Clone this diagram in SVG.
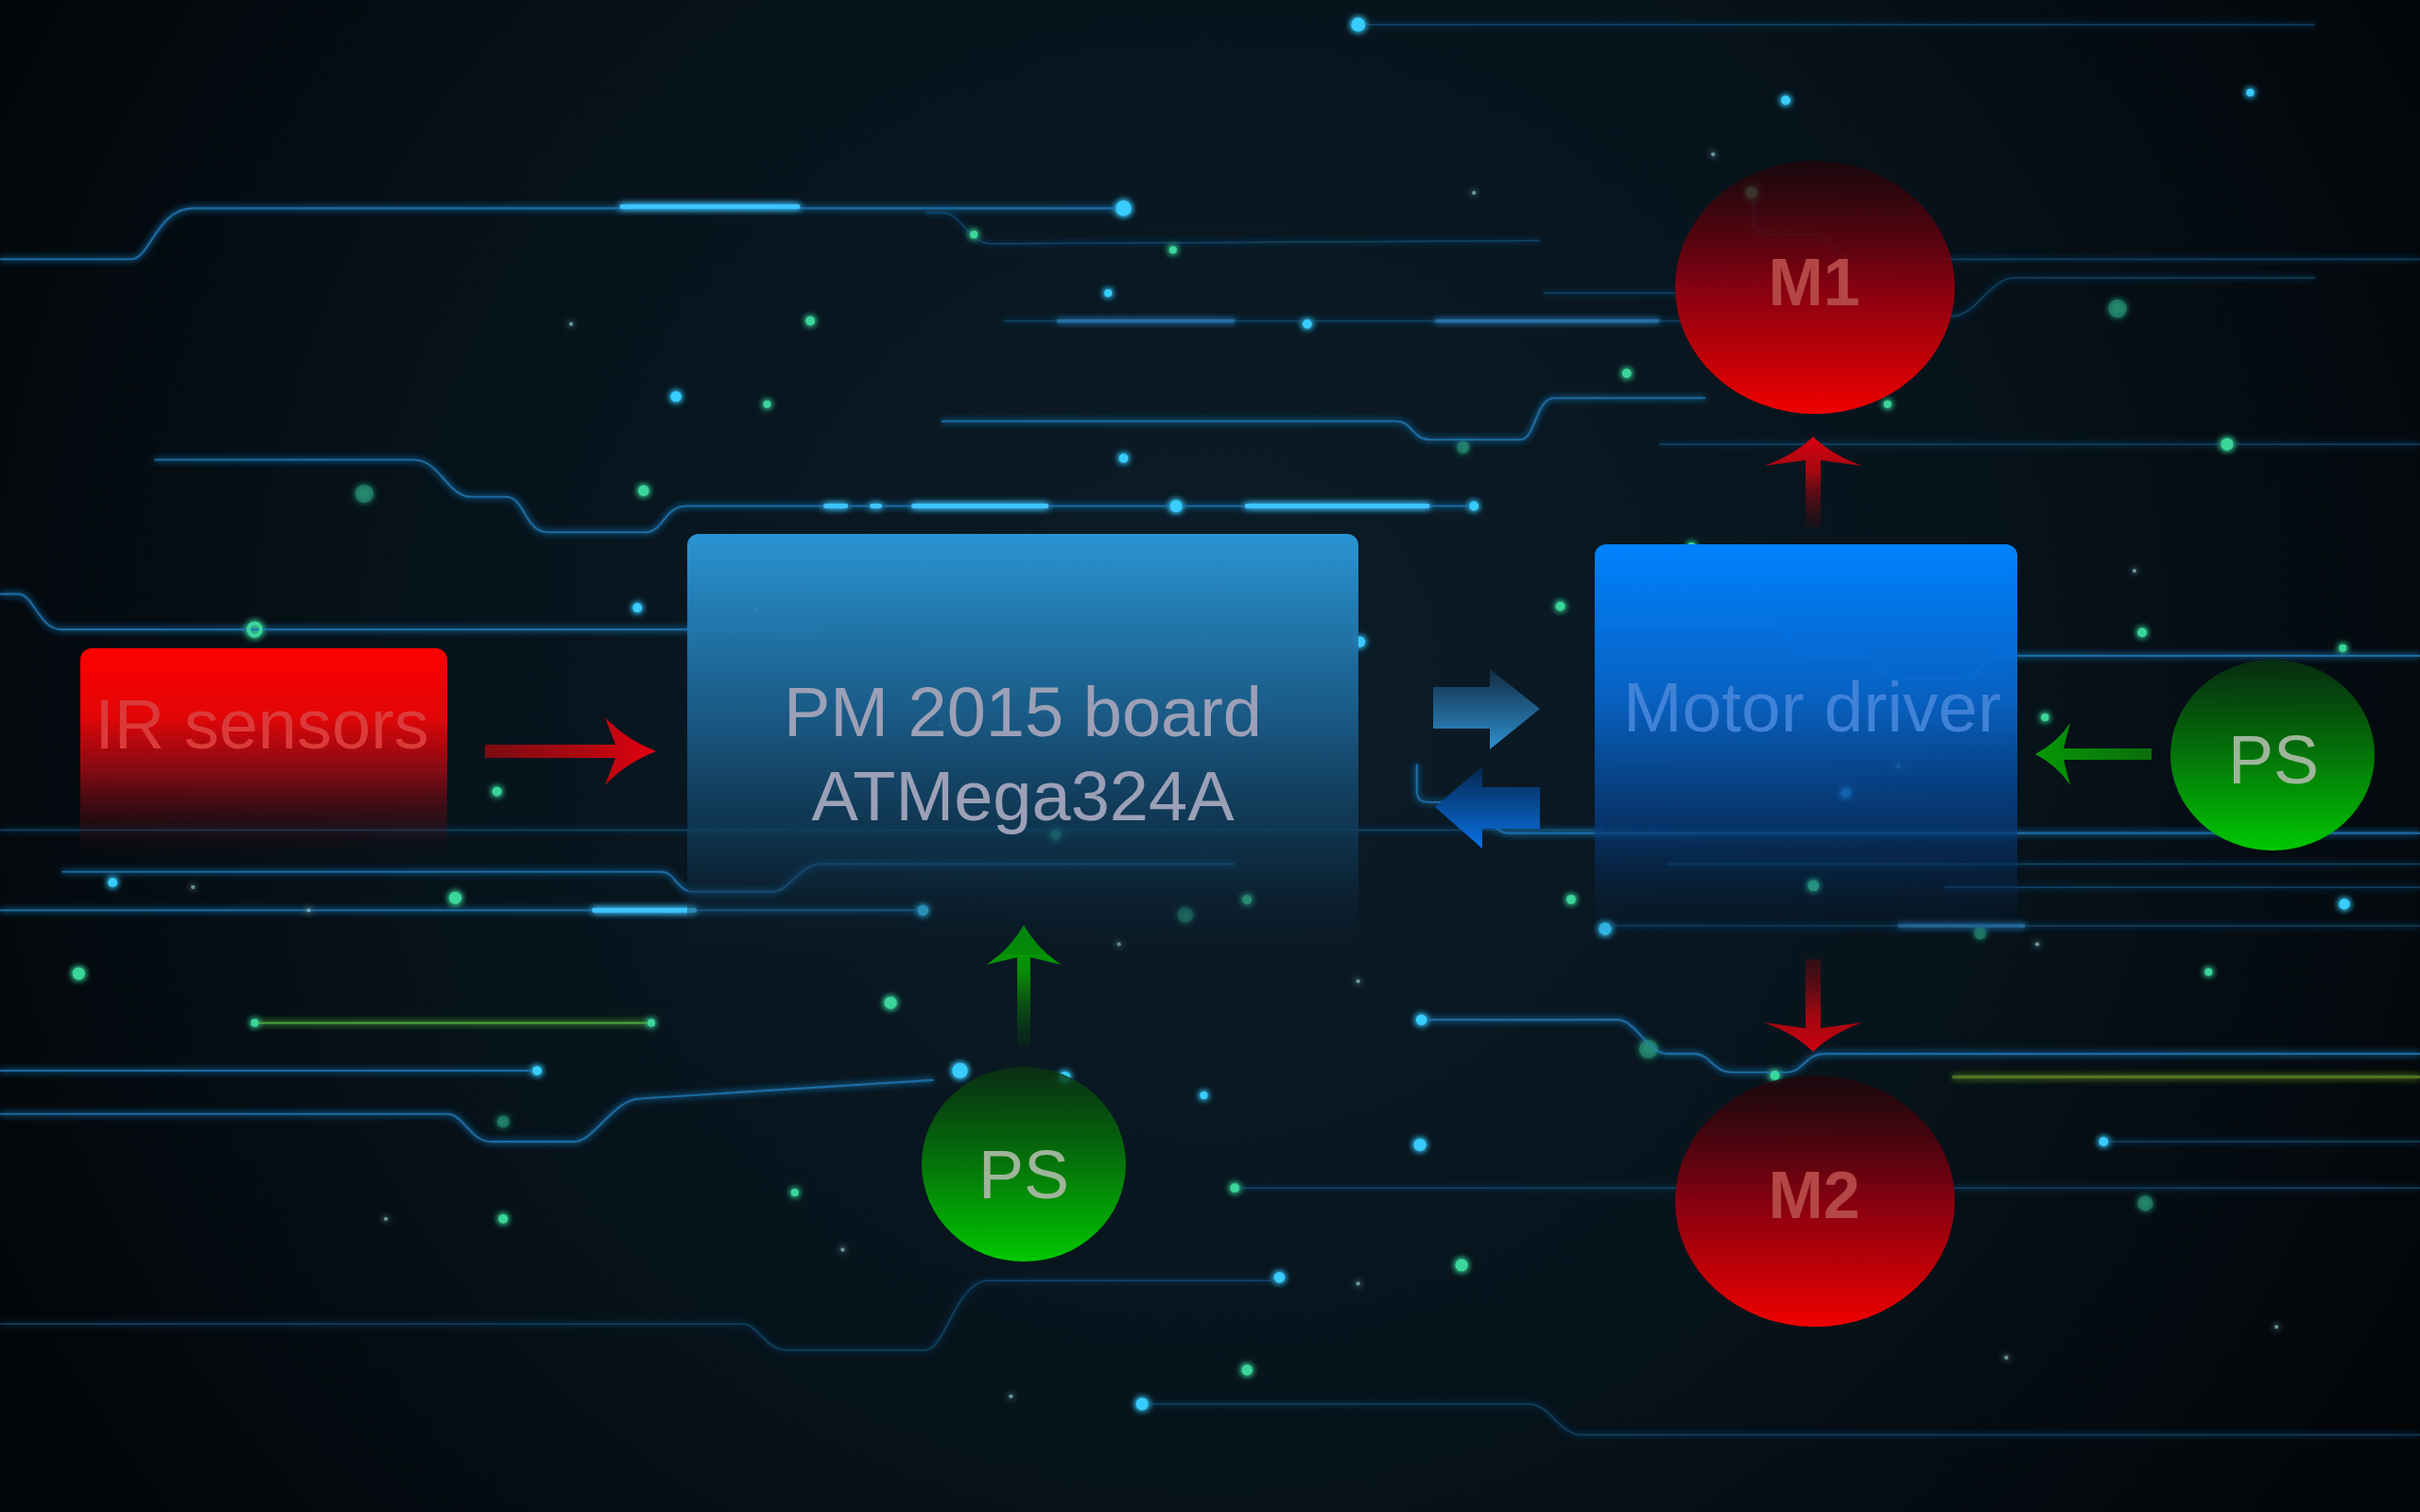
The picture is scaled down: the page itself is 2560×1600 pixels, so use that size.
<svg xmlns="http://www.w3.org/2000/svg" width="2560" height="1600" viewBox="0 0 2560 1600">
<defs>
<radialGradient id="bg" cx="1280" cy="720" r="1500" gradientUnits="userSpaceOnUse">
<stop offset="0" stop-color="#0c1d29"/><stop offset="0.55" stop-color="#07131b"/><stop offset="1" stop-color="#020508"/>
</radialGradient>
<filter id="glow" x="-20%" y="-20%" width="140%" height="140%"><feGaussianBlur stdDeviation="2.4" result="b"/><feMerge><feMergeNode in="b"/><feMergeNode in="b"/><feMergeNode in="SourceGraphic"/></feMerge></filter>
<linearGradient id="gIR" x1="0" y1="0" x2="0" y2="1"><stop offset="0" stop-color="#ff0000"/><stop offset="0.33" stop-color="#e20608"/><stop offset="0.6" stop-color="#8e0a12" stop-opacity="0.9"/><stop offset="1" stop-color="#3a0810" stop-opacity="0"/></linearGradient>
<linearGradient id="gPM" x1="0" y1="0" x2="0" y2="1"><stop offset="0" stop-color="#2b98d8" stop-opacity="0.97"/><stop offset="0.45" stop-color="#1b5e8c" stop-opacity="0.9"/><stop offset="0.75" stop-color="#0f3652" stop-opacity="0.75"/><stop offset="1" stop-color="#0a1a28" stop-opacity="0.1"/></linearGradient>
<linearGradient id="gMD" x1="0" y1="0" x2="0" y2="1"><stop offset="0" stop-color="#0082ff"/><stop offset="0.4" stop-color="#0866cc" stop-opacity="0.93"/><stop offset="0.72" stop-color="#063c80" stop-opacity="0.75"/><stop offset="1" stop-color="#061a30" stop-opacity="0.1"/></linearGradient>
<linearGradient id="gM" x1="0" y1="0" x2="0" y2="1"><stop offset="0" stop-color="#200408" stop-opacity="0.7"/><stop offset="0.5" stop-color="#8c0010" stop-opacity="0.95"/><stop offset="1" stop-color="#f00000"/></linearGradient>
<linearGradient id="gPS" x1="0" y1="0" x2="0" y2="1"><stop offset="0" stop-color="#0a3410" stop-opacity="0.8"/><stop offset="0.5" stop-color="#047a08" stop-opacity="0.95"/><stop offset="1" stop-color="#00c800"/></linearGradient>
<linearGradient id="aRed" x1="0" y1="0" x2="1" y2="0"><stop offset="0" stop-color="#7a0c12"/><stop offset="0.6" stop-color="#b00810"/><stop offset="1" stop-color="#e40010"/></linearGradient>
<linearGradient id="aRedUp" x1="0" y1="0" x2="1" y2="0"><stop offset="0" stop-color="#3a0a10" stop-opacity="0.3"/><stop offset="0.6" stop-color="#a00810"/><stop offset="1" stop-color="#dc0010"/></linearGradient>
<linearGradient id="aRedDn" x1="0" y1="0" x2="1" y2="0"><stop offset="0" stop-color="#4a0a10" stop-opacity="0.6"/><stop offset="0.6" stop-color="#a00810"/><stop offset="1" stop-color="#cc0010"/></linearGradient>
<linearGradient id="aGrnL" x1="0" y1="0" x2="1" y2="0"><stop offset="0" stop-color="#0a6e0a"/><stop offset="1" stop-color="#069806"/></linearGradient>
<linearGradient id="aGrnUp" x1="0" y1="0" x2="1" y2="0"><stop offset="0" stop-color="#0a3a10" stop-opacity="0.3"/><stop offset="0.6" stop-color="#088a08"/><stop offset="1" stop-color="#00aa00"/></linearGradient>
<linearGradient id="aBlueR" x1="0" y1="0" x2="0" y2="1"><stop offset="0" stop-color="#132c44"/><stop offset="1" stop-color="#2d90d0"/></linearGradient>
<linearGradient id="aBlueL" x1="0" y1="0" x2="0" y2="1"><stop offset="0" stop-color="#07264e"/><stop offset="1" stop-color="#0772e4"/></linearGradient>
<style>
.tr{fill:none;stroke:#1f74b0;stroke-width:1.3;stroke-opacity:.85}
.tf{fill:none;stroke:#18557f;stroke-width:1.1;stroke-opacity:.6}
.br{fill:none;stroke:#3cc4ff;stroke-width:3;stroke-linecap:round}
.bd{fill:none;stroke:#2a78b0;stroke-width:2.4;stroke-opacity:.8}
.gr{fill:none;stroke:#4aa83a;stroke-width:1.3}
.dc{fill:#38ccff}
.dg{fill:#3ad69a}
.dd{fill:#2a9a7a;opacity:.5}
.sp{fill:#9fd8e0;opacity:.6}
.lbl{font-family:"Liberation Sans",Arial,Helvetica,sans-serif;font-size:74px;text-anchor:middle}
.bold{font-weight:bold;font-size:70px}
</style>
</defs>
<rect width="2560" height="1600" fill="url(#bg)"/>
<g id="background" transform="scale(1.63265)">
<g filter="url(#glow)">
<path class="tf" d="M880,16 L1500,16"/>
<path class="tr" d="M0,168 L85,168 C97,168 102,135 125,135 L728,135"/>
<path class="tf" d="M600,138 L612,138 C622,138 628,158 642,158 L998,156"/>
<path class="tf" d="M650,208 L1100,208"/>
<path class="bd" d="M685,208 L800,208 M930,208 L1075,208"/>
<path class="tr" d="M610,273 L905,273 C915,273 915,285 927,285 L985,285 C995,285 995,258 1007,258 L1105,258"/>
<path class="tr" d="M100,298 L268,298 C285,298 290,322 305,322 L328,322 C340,322 340,345 355,345 L418,345 C430,345 430,328 445,328 L955,328"/>
<path class="tr" d="M0,385 L12,385 C22,385 25,408 40,408 L530,408"/>
<path class="tf" d="M0,538 L1040,538"/>
<path class="tr" d="M40,565 L428,565 C438,565 438,578 450,578 L500,578 C512,578 518,560 532,560 L800,560"/>
<path class="tr" d="M0,590 L598,590"/>
<path class="tr" d="M0,694 L348,694"/>
<path class="tr" d="M0,722 L290,722 C300,722 305,740 318,740 L372,740 C385,740 398,712 415,712 L605,700"/>
<path class="tr" d="M921,661 L1048,661 C1060,661 1068,683 1080,683 L1098,683 C1108,683 1110,695 1122,695 L1158,695 C1168,695 1170,683 1182,683 L1568,683"/>
<path class="tf" d="M1360,740 L1568,740"/>
<path class="tf" d="M0,858 L480,858 C492,858 495,875 510,875 L600,875 C612,875 620,830 640,830 L830,830"/>
<path class="tf" d="M740,910 L990,910 C1005,910 1010,930 1025,930 L1568,930"/>
<path class="tr" d="M1035,405 L1148,405 C1158,405 1162,425 1172,425 L1205,425 C1215,425 1220,440 1232,440 L1272,440 C1282,440 1285,425 1298,425 L1568,425"/>
<path class="tr" d="M918,495 L918,512 C918,520 922,520 930,520 L950,520 C962,520 965,540 978,540 L1568,540"/>
<path class="tf" d="M1260,575 L1568,575 M1040,600 L1568,600"/>
<path class="bd" d="M1230,600 L1312,600"/>
<path class="tf" d="M1136,125 L1136,145 C1136,150 1141,152 1148,152 L1175,152 C1185,152 1190,168 1200,168 L1568,168"/>
<path class="tf" d="M1000,190 L1150,190 C1165,190 1172,205 1185,205 L1265,205 C1280,205 1290,180 1305,180 L1500,180"/>
<path class="tf" d="M1075,288 L1568,288"/>
<path class="tf" d="M800,770 L1568,770"/>
<path class="tf" d="M1080,560 L1568,560"/>
<path class="br" d="M403,134 L517,134 M535,328 L548,328 M565,328 L570,328 M592,328 L678,328 M808,328 L925,328 M385,590 L450,590"/>
<path class="gr" d="M165,663 L422,663"/>
<path fill="none" stroke="#6a9a2a" stroke-width="2" stroke-opacity=".6" d="M1265,698 L1568,698"/>
<g>
<circle class="dc" cx="880" cy="16" r="4.5"/><circle class="dc" cx="1157" cy="65" r="3"/><circle class="dc" cx="438" cy="257" r="3.5"/>
<circle class="dc" cx="728" cy="135" r="5"/><circle class="dc" cx="762" cy="328" r="4"/><circle class="dc" cx="955" cy="328" r="3"/>
<circle class="dc" cx="598" cy="590" r="3.5"/><circle class="dc" cx="622" cy="694" r="5"/><circle class="dc" cx="690" cy="698" r="3.5"/>
<circle class="dc" cx="921" cy="661" r="3.5"/><circle class="dc" cx="920" cy="742" r="4"/><circle class="dc" cx="829" cy="828" r="3.5"/>
<circle class="dc" cx="740" cy="910" r="4"/><circle class="dc" cx="1040" cy="602" r="4"/><circle class="dc" cx="1196" cy="514" r="3"/>
<circle class="dc" cx="1519" cy="586" r="3.5"/><circle class="dc" cx="73" cy="572" r="3"/><circle class="dc" cx="413" cy="394" r="3"/>
<circle class="dc" cx="728" cy="297" r="3"/><circle class="dc" cx="847" cy="210" r="3"/><circle class="dc" cx="881" cy="416" r="3.5"/>
<circle class="dc" cx="1363" cy="740" r="3"/><circle class="dc" cx="348" cy="694" r="3"/><circle class="dc" cx="718" cy="190" r="2.5"/>
<circle class="dc" cx="1458" cy="60" r="2.5"/><circle class="dc" cx="780" cy="710" r="2.5"/>
<circle class="dg" cx="422" cy="663" r="2.5"/><circle class="dg" cx="165" cy="663" r="2.5"/>
<circle class="dg" cx="577" cy="650" r="4"/><circle class="dg" cx="525" cy="208" r="3"/><circle class="dg" cx="417" cy="318" r="3.5"/>
<circle class="dg" cx="1135" cy="125" r="3.5"/><circle class="dg" cx="947" cy="820" r="4"/><circle class="dg" cx="808" cy="888" r="3.5"/>
<circle class="dg" cx="1175" cy="574" r="3.5"/><circle class="dg" cx="1388" cy="410" r="3"/><circle class="dg" cx="1443" cy="288" r="4"/>
<circle class="dd" cx="1372" cy="200" r="6"/><circle class="dg" cx="51" cy="631" r="4"/><circle class="dg" cx="295" cy="582" r="4"/>
<circle fill="none" stroke="#3ad69a" stroke-width="2.5" cx="165" cy="408" r="4"/><circle class="dg" cx="322" cy="513" r="3"/>
<circle class="dg" cx="1011" cy="393" r="3"/><circle class="dg" cx="1054" cy="242" r="3"/><circle class="dg" cx="1150" cy="697" r="3"/>
<circle class="dd" cx="1068" cy="680" r="6"/><circle class="dg" cx="800" cy="770" r="3"/><circle class="dg" cx="684" cy="541" r="3"/>
<circle class="dg" cx="1018" cy="583" r="3"/><circle class="dg" cx="326" cy="790" r="3"/><circle class="dd" cx="236" cy="320" r="6"/>
<circle class="dg" cx="808" cy="583" r="3"/><circle class="dd" cx="768" cy="593" r="5"/><circle class="dd" cx="1283" cy="605" r="4"/>
<circle class="dg" cx="631" cy="152" r="2.5"/><circle class="dg" cx="760" cy="162" r="2.5"/><circle class="dg" cx="497" cy="262" r="2.5"/>
<circle class="dg" cx="1223" cy="262" r="2.5"/><circle class="dg" cx="1096" cy="354" r="2.5"/><circle class="dg" cx="1325" cy="465" r="2.5"/>
<circle class="dd" cx="948" cy="290" r="4"/><circle class="dd" cx="326" cy="727" r="4"/><circle class="dd" cx="1390" cy="780" r="5"/>
<circle class="dg" cx="515" cy="773" r="2.5"/><circle class="dg" cx="1518" cy="420" r="2.5"/><circle class="dg" cx="1431" cy="630" r="2.5"/>
</g>
<g>
<circle class="sp" cx="370" cy="210" r="1.3"/><circle class="sp" cx="490" cy="395" r="1.3"/><circle class="sp" cx="610" cy="470" r="1.3"/>
<circle class="sp" cx="955" cy="125" r="1.3"/><circle class="sp" cx="1110" cy="100" r="1.3"/><circle class="sp" cx="725" cy="612" r="1.3"/>
<circle class="sp" cx="880" cy="636" r="1.3"/><circle class="sp" cx="1230" cy="497" r="1.3"/><circle class="sp" cx="1320" cy="612" r="1.3"/>
<circle class="sp" cx="546" cy="810" r="1.3"/><circle class="sp" cx="880" cy="832" r="1.3"/><circle class="sp" cx="1300" cy="880" r="1.3"/>
<circle class="sp" cx="200" cy="590" r="1.3"/><circle class="sp" cx="125" cy="575" r="1.3"/><circle class="sp" cx="1383" cy="370" r="1.3"/>
<circle class="sp" cx="655" cy="905" r="1.3"/><circle class="sp" cx="1475" cy="860" r="1.3"/><circle class="sp" cx="250" cy="790" r="1.3"/>
</g>
</g>
</g>
<g id="connectors">
<path d="M0,0 Q-33,-13 -54,-36 L-43,-7 L-181,-7 L-181,7 L-43,7 L-54,36 Q-33,13 0,0 Z" fill="url(#aRed)" transform="translate(694,795)"/>
<path d="M0,0 Q-19,-19 -31,-52 L-25,-8 L-96,-8 L-96,8 L-25,8 L-31,52 Q-19,19 0,0 Z" fill="url(#aRedUp)" transform="translate(1918,462) rotate(-90)"/>
<path d="M0,0 Q-19,-19 -31,-52 L-25,-8 L-98,-8 L-98,8 L-25,8 L-31,52 Q-19,19 0,0 Z" fill="url(#aRedDn)" transform="translate(1918,1113) rotate(90)"/>
<path d="M0,0 Q-23,-12 -37,-33 L-30,-6 L-123,-6 L-123,6 L-30,6 L-37,33 Q-23,12 0,0 Z" fill="url(#aGrnL)" transform="translate(2153,798) rotate(180)"/>
<path d="M0,0 Q-26,-15 -42,-40 L-34,-7 L-128,-7 L-128,7 L-34,7 L-42,40 Q-26,15 0,0 Z" fill="url(#aGrnUp)" transform="translate(1083,979) rotate(-90)"/>
<path d="M1516,727 L1576,727 L1576,708 L1629,750 L1576,793 L1576,771 L1516,771 Z" fill="url(#aBlueR)"/>
<path d="M1629,833 L1568,833 L1568,811 L1518,854 L1568,898 L1568,877 L1629,877 Z" fill="url(#aBlueL)"/>
</g>
<g id="ir-sensors">
<rect x="85" y="686" width="388" height="220" rx="12" fill="url(#gIR)"/>
<text class="lbl" x="277" y="792" fill="#dc3a3a">IR sensors</text>
</g>
<g id="pm-board">
<rect x="727" y="565" width="710" height="445" rx="12" fill="url(#gPM)"/>
<text class="lbl" x="1082" y="779" fill="#9ca0b6">PM 2015 board</text>
<text class="lbl" x="1082" y="868" fill="#9ca0b6">ATMega324A</text>
</g>
<g id="motor-driver">
<rect x="1687" y="576" width="447" height="415" rx="12" fill="url(#gMD)"/>
<text class="lbl" x="1917" y="774" fill="#3f82d8" style="font-size:75px">Motor driver</text>
</g>
<g id="m1">
<ellipse cx="1920" cy="304" rx="148" ry="134" fill="url(#gM)"/>
<text class="lbl bold" x="1919" y="323" fill="#b44646">M1</text>
</g>
<g id="m2">
<ellipse cx="1920" cy="1271" rx="148" ry="133" fill="url(#gM)"/>
<text class="lbl bold" x="1919" y="1289" fill="#b44646">M2</text>
</g>
<g id="ps-right">
<ellipse cx="2404" cy="799" rx="108" ry="101" fill="url(#gPS)"/>
<text class="lbl" x="2405" y="829" fill="#9fb59a" style="font-size:72px">PS</text>
</g>
<g id="ps-bottom">
<ellipse cx="1083" cy="1232" rx="108" ry="103" fill="url(#gPS)"/>
<text class="lbl" x="1083" y="1268" fill="#9fb59a" style="font-size:72px">PS</text>
</g>
</svg>
